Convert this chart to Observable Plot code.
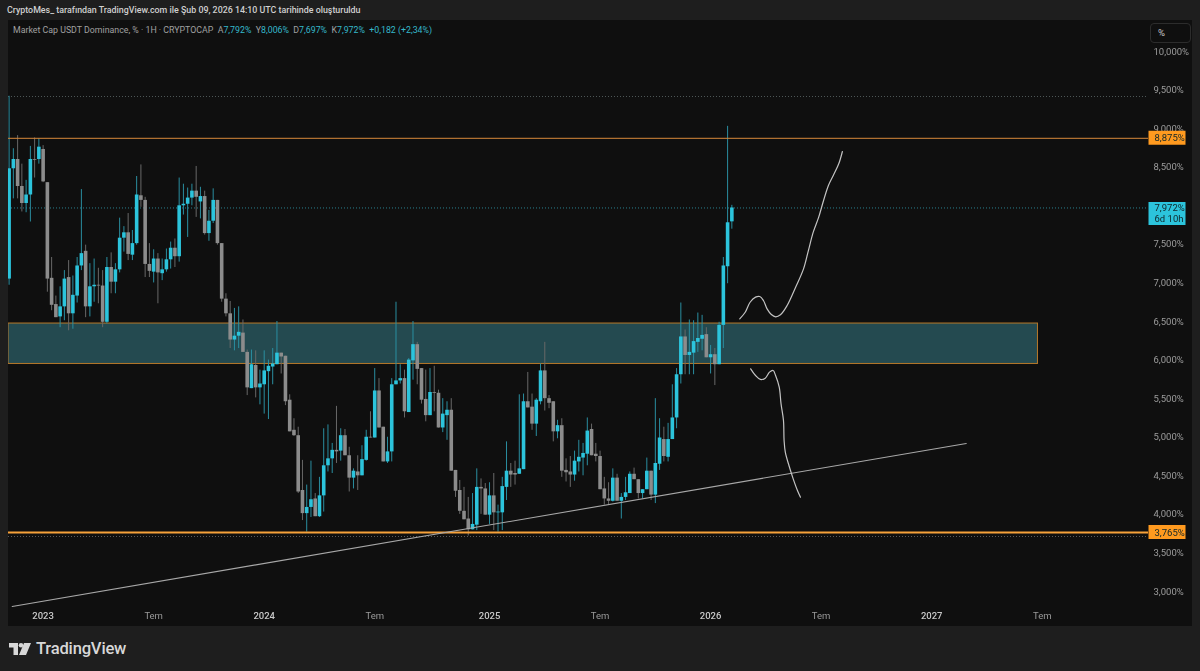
<!DOCTYPE html>
<html lang="tr"><head><meta charset="utf-8">
<script src="https://cdn.jsdelivr.net/npm/d3@7"></script>
<script src="https://cdn.jsdelivr.net/npm/@observablehq/plot@0.6"></script>
<style>
html,body{margin:0;padding:0;background:#1e1e1e;width:1200px;height:671px;overflow:hidden;font-family:Roboto,"Noto Sans",sans-serif}
#title{position:absolute;left:7px;top:5px;font-size:8.85px;font-weight:500;color:#d0d0d0;white-space:nowrap}
#chart{position:absolute;left:8px;top:20px;width:1184px;height:606px;background:#0f0f0f}
#chart svg{display:block;background:transparent;filter:blur(.3px)}
#legend{position:absolute;left:13px;top:25px;font-size:8.8px;color:#a0a0a0;white-space:nowrap}
#legend b{font-weight:400;color:#35b8cb}
#pct{position:absolute;left:1150px;top:23px;width:39px;height:18px;border:1px solid #2c2c2c;border-radius:4px;color:#c8c8c8;font-size:9.5px;line-height:18px;text-indent:7px}
#brand{position:absolute;left:9px;top:639px;display:flex;align-items:center;gap:5px;color:#d8d8d8;font-size:16.6px;font-weight:500;letter-spacing:-.2px}
</style></head><body>
<div id="title">CryptoMes_ tarafından TradingView.com ile Şub 09, 2026 14:10 UTC tarihinde oluşturuldu</div>
<div id="chart"></div>
<div id="legend">Market Cap USDT Dominance, % · 1H · CRYPTOCAP &nbsp;A<b>7,792%</b> &nbsp;Y<b>8,006%</b> &nbsp;D<b>7,697%</b> &nbsp;K<b>7,972%</b> &nbsp;<b>+0,182 (+2,34%)</b></div>
<div id="pct">%</div>
<div id="brand"><svg width="22" height="12" viewBox="0 0 22 12"><path fill="#d8d8d8" d="M0 0h9v12H4.5V4.5H0zM15 0h7l-5 12h-7z"/><circle cx="12" cy="2.3" r="2.3" fill="#d8d8d8"/></svg><span>TradingView</span></div>
<script>
const firstWeek = "2022-11-07";
const opens = [7.05,8.48,8.60,8.25,8.03,8.14,8.60,8.60,8.73,8.30,7.06,6.72,6.56,6.69,7.07,6.60,6.83,7.22,7.41,6.69,6.95,6.97,6.96,6.49,7.20,7.01,7.17,7.58,7.65,7.36,7.51,8.13,8.07,7.24,7.14,7.31,7.12,7.17,7.30,7.45,7.34,8.00,8.02,8.10,8.19,8.05,8.12,7.64,7.80,8.07,7.51,6.79,6.60,6.26,6.31,6.35,
 6.10,5.63,5.93,5.64,5.68,5.85,5.91,5.94,6.09,6.05,5.48,5.09,5.02,4.31,4.01,4.09,4.20,3.97,4.24,4.63,4.72,4.83,4.82,5.02,4.76,4.47,4.55,4.50,4.70,5.00,4.99,5.60,5.13,4.68,4.81,5.68,5.73,5.76,5.32,5.99,6.20,5.89,5.49,5.28,5.58,5.57,5.12,5.28,5.35,4.57,4.31,4.04,3.94,3.80,3.86,
 4.35,4.33,3.99,4.24,4.02,4.02,4.35,4.56,4.53,4.52,4.58,5.46,5.39,5.17,5.46,5.86,5.50,5.46,5.07,5.15,4.57,4.55,4.51,4.68,4.73,4.78,5.10,4.78,4.75,4.33,4.20,4.17,4.47,4.17,4.22,4.27,4.52,4.45,4.27,4.32,4.56,4.25,4.65,4.97,4.74,4.97,5.25,5.81,6.30,6.06,6.09,6.23,6.27,6.33,6.03,6.07,5.94,6.45,7.21,7.792];
const highs = [9.42,8.74,8.91,8.54,8.33,8.77,8.88,8.87,8.78,8.30,7.33,6.83,6.95,7.16,7.29,7.09,7.33,8.21,7.49,7.25,7.31,7.19,7.16,7.33,7.39,7.25,7.84,7.73,7.90,7.68,8.38,8.53,8.11,7.51,7.43,7.38,7.31,7.44,7.53,7.57,8.36,8.28,8.23,8.28,8.51,8.24,8.19,7.94,8.22,8.07,7.51,6.86,6.76,6.67,6.69,6.52,
 6.13,6.13,6.12,5.87,6.12,6.00,6.15,6.50,6.09,6.05,5.55,5.24,5.13,4.70,4.38,4.69,4.27,4.48,5.11,5.16,4.92,5.40,5.11,5.10,4.87,4.59,4.76,4.89,5.09,5.33,5.89,5.76,5.13,5.00,5.76,6.75,5.94,5.87,6.02,6.50,6.23,5.89,5.87,5.89,5.92,5.61,5.50,5.46,5.50,4.57,4.44,4.35,4.22,4.27,4.59,
 4.46,4.40,4.41,4.53,4.12,4.48,4.94,4.66,4.69,5.55,5.56,5.84,5.56,5.50,5.95,6.23,5.54,5.46,5.22,5.24,4.72,4.75,4.82,4.96,4.92,5.25,5.17,4.92,4.82,4.48,4.41,4.59,4.52,4.27,4.48,4.55,4.60,4.45,4.32,4.73,4.56,5.50,5.24,5.13,5.18,5.68,5.89,6.74,6.39,6.52,6.51,6.61,6.58,6.42,6.19,6.15,6.49,7.33,9.03,8.006];
const lows = [6.97,8.09,8.09,7.92,7.91,7.79,8.36,8.54,8.30,6.88,6.64,6.55,6.42,6.51,6.38,6.40,6.74,7.16,6.55,6.56,6.75,6.73,6.42,6.47,6.86,6.86,7.13,7.40,7.29,7.29,7.49,7.98,7.07,7.07,7.00,6.73,7.03,7.14,7.18,7.20,7.27,7.88,7.59,8.00,7.85,7.83,7.62,7.54,7.77,7.49,6.75,6.56,6.15,6.12,6.15,6.10,
 5.54,5.63,5.51,5.42,5.30,5.23,5.68,5.94,5.82,5.41,5.07,5.01,4.27,3.92,3.77,3.96,3.97,3.96,4.03,4.55,4.53,4.66,4.69,4.76,4.29,4.33,4.31,4.50,4.69,4.99,4.99,5.12,4.68,4.66,4.68,5.68,5.69,5.25,5.32,5.74,5.68,5.43,5.20,5.28,5.33,5.12,5.06,4.96,4.56,4.22,4.00,3.93,3.72,3.80,3.79,
 4.00,3.99,3.87,3.79,3.77,3.79,4.18,4.35,4.38,4.52,4.58,5.38,5.09,5.01,5.42,5.34,5.37,4.94,4.98,4.48,4.42,4.35,4.43,4.55,4.50,4.63,4.76,4.68,4.32,4.12,4.12,4.16,4.17,3.94,4.18,4.27,4.45,4.20,4.20,4.32,4.18,4.14,4.57,4.68,4.68,4.97,5.11,5.69,5.81,5.81,5.81,6.10,6.12,6.03,5.82,5.67,5.94,6.15,6.99,7.697];
const closes = [8.48,8.60,8.25,8.03,8.14,8.60,8.59,8.76,8.31,7.05,6.71,6.55,6.69,7.05,6.60,6.84,7.22,7.38,6.69,6.95,6.97,6.96,6.49,7.20,7.01,7.17,7.58,7.65,7.37,7.51,8.14,8.07,7.24,7.15,7.31,7.13,7.17,7.30,7.45,7.34,8.00,8.02,8.10,8.19,8.11,8.12,7.64,7.80,8.07,7.51,6.79,6.60,6.26,6.31,6.36,6.10,
 5.64,5.94,5.64,5.69,5.86,5.92,5.95,6.09,6.04,5.46,5.07,5.02,4.29,4.01,4.09,4.19,3.97,4.24,4.63,4.72,4.83,4.81,5.02,4.76,4.47,4.56,4.50,4.71,5.00,4.99,5.60,5.12,4.68,4.81,5.68,5.73,5.76,5.33,6.00,6.20,5.88,5.48,5.28,5.58,5.57,5.12,5.30,5.35,4.56,4.30,4.04,3.93,3.80,3.87,4.35,
 4.33,3.99,4.24,4.02,4.03,4.36,4.56,4.51,4.51,4.59,5.46,5.38,5.17,5.48,5.86,5.50,5.44,5.07,5.15,4.56,4.54,4.51,4.69,4.74,4.79,5.08,4.76,4.75,4.32,4.20,4.17,4.47,4.17,4.22,4.28,4.52,4.45,4.27,4.32,4.56,4.25,4.66,4.99,4.75,4.97,5.25,5.81,6.30,6.06,6.10,6.24,6.28,6.32,6.03,6.07,5.94,6.45,7.22,7.78,7.972];
const yearTicks = ["2023-01-02","2024-01-01","2025-01-06","2026-01-05","2027-01-04"];
const yearLabels = ["2023","2024","2025","2026","2027"];
const julyTicks = ["2023-07-03","2024-07-01","2025-07-07","2026-07-06","2027-07-05"];
const priceTicks = [3,3.5,4,4.5,5,5.5,6,6.5,7,7.5,8,8.5,9,9.5,10];
const resistance = 8.875, support = 3.765, lastPrice = 7.972, spikeHigh = 9.417, spikeLow = 3.713;
const zoneTop = 6.474, zoneBottom = 5.95, zoneStart = "2022-11-06", zoneEnd = "2027-06-28";
const trendDates = ["2022-11-12","2027-03-02"], trendValues = [2.806,4.919];
const upDates = ["2026-02-22","2026-03-03","2026-03-11","2026-03-20","2026-03-27","2026-04-02","2026-04-08","2026-04-15","2026-04-22","2026-04-30","2026-05-11","2026-05-25","2026-06-07","2026-06-15","2026-06-23","2026-07-02","2026-07-10","2026-07-18","2026-07-26","2026-08-04","2026-08-10"];
const upValues = [6.535,6.62,6.75,6.816,6.824,6.772,6.664,6.591,6.561,6.587,6.708,6.945,7.183,7.42,7.658,7.853,8.069,8.263,8.393,8.544,8.704];
const downDates = ["2026-03-12","2026-03-20","2026-03-28","2026-04-05","2026-04-12","2026-04-18","2026-04-22","2026-04-28","2026-05-01","2026-05-05","2026-05-06","2026-05-08","2026-05-14","2026-05-21","2026-05-28","2026-06-02"];
const downValues = [5.887,5.80,5.749,5.766,5.844,5.865,5.80,5.649,5.433,5.217,4.958,4.807,4.634,4.461,4.31,4.223];

const parse = d3.utcParse("%Y-%m-%d");
const start = parse(firstWeek);
const candles = opens.map((o,i)=>({date:d3.utcWeek.offset(start,i),o,h:highs[i],l:lows[i],c:closes[i],up:closes[i]>=o}));
const line = (ds,vs)=>ds.map((d,i)=>({date:parse(d),v:vs[i]}));
const xEnd = parse("2027-12-27");
const fmt = d=>d.toFixed(3).replace(".",",")+"%";
const CY="#2cc4dc", GR="#8c8c8c", OR="#ff9a1f";
const tag=(v,half,fill)=>Plot.ruleX([xEnd],{y1:v-half,y2:v+half,stroke:fill,strokeWidth:37,dx:18.5});
const tagText=(v,txt,dy=0)=>Plot.text([txt],{x:()=>xEnd,y:()=>v,text:d=>d,dx:6,dy,textAnchor:"start",fill:"#10262a",fontSize:9.5});

const chart = Plot.plot({
  width:1184,height:606,marginLeft:0,marginRight:44,marginTop:0,marginBottom:20,
  style:{background:"transparent",fontFamily:"Roboto, 'Noto Sans', sans-serif",fontSize:"9.5px",color:"#9c9c9c"},
  x:{type:"utc",domain:[parse("2022-11-06"),xEnd]},
  y:{domain:[2.806,10.402]},
  marks:[
    Plot.rect([{x1:parse(zoneStart),x2:parse(zoneEnd),y1:zoneBottom,y2:zoneTop}],{x1:"x1",x2:"x2",y1:"y1",y2:"y2",fill:"#244a50",stroke:"#b8792a",strokeWidth:1}),
    Plot.ruleY([spikeHigh],{stroke:"#4e5858",strokeWidth:1,strokeDasharray:"1,2"}),
    Plot.ruleY([lastPrice],{stroke:"#2a7f8e",strokeWidth:1,strokeDasharray:"1,2"}),
    Plot.ruleY([spikeLow],{stroke:"#5c5c5c",strokeWidth:1,strokeDasharray:"1,2"}),
    Plot.ruleX(candles,{x:"date",y1:"l",y2:"h",stroke:d=>d.up?"#2a8ea0":"#686868",strokeWidth:1}),
    Plot.ruleX(candles,{x:"date",y1:"o",y2:"c",stroke:d=>d.up?CY:GR,strokeWidth:3.6}),
    Plot.ruleY([resistance],{stroke:"#d8893a",strokeWidth:1}),
    Plot.ruleY([support],{stroke:"#f7a23a",strokeWidth:2.2}),
    Plot.line(line(trendDates,trendValues),{x:"date",y:"v",stroke:"#a8a8a8",strokeWidth:1.1}),
    Plot.line(line(upDates,upValues),{x:"date",y:"v",stroke:"#c4c4c4",strokeWidth:1.2,curve:"catmull-rom"}),
    Plot.line(line(downDates,downValues),{x:"date",y:"v",stroke:"#c4c4c4",strokeWidth:1.2,curve:"catmull-rom"}),
    Plot.axisY({anchor:"right",ticks:priceTicks,tickSize:0,tickPadding:5,tickFormat:fmt,label:null,fill:"#9c9c9c"}),
    Plot.axisX({anchor:"bottom",ticks:yearTicks.map(parse),tickSize:0,tickPadding:6,tickFormat:d=>yearLabels[yearTicks.indexOf(d3.utcFormat("%Y-%m-%d")(d))],label:null,fill:"#c8c8c8",fontWeight:500}),
    Plot.axisX({anchor:"bottom",ticks:julyTicks.map(parse),tickSize:0,tickPadding:6,tickFormat:()=>"Tem",label:null,fill:"#9a9a9a"}),
    tag(resistance,0.09,OR), tagText(resistance,fmt(resistance)),
    tag(support,0.09,OR), tagText(support,fmt(support)),
    tag(lastPrice-0.078,0.149,CY), tagText(lastPrice,fmt(lastPrice)), tagText(lastPrice,"6d 10h",10.5)
  ]
});
document.getElementById("chart").appendChild(chart);
</script>
</body></html>
